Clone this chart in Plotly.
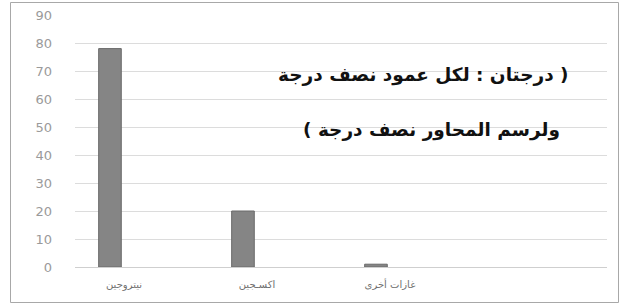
import plotly.graph_objects as go

RLE, PDF = "\u202b", "\u202c"

categories = ["نيتروجين", "اكسـجين", "غازات أخرى", " "]
values = [78, 20, 1, None]
y_ticks = [0, 10, 20, 30, 40, 50, 60, 70, 80, 90]
note_line1 = "( درجتان : لكل عمود نصف درجة"
note_line2 = "ولرسم المحاور نصف درجة )"

W, H = 629, 307
L, R, T, B = 75, 22, 15, 40

fig = go.Figure()
fig.add_trace(go.Bar(
    x=categories, y=values, width=0.17,
    marker=dict(color="#858585", line=dict(color="#6a6a6a", width=1)),
))

fig.update_layout(
    width=W, height=H,
    margin=dict(l=L, r=R, t=T, b=B, autoexpand=False),
    paper_bgcolor="white", plot_bgcolor="white",
    showlegend=False,
    font=dict(family="DejaVu Sans"),
)
fig.update_xaxes(
    type="category", range=[-0.263, 3.737],
    showgrid=False, showline=False, ticks="",
    tickfont=dict(size=10, color="#707070", family="DejaVu Sans"),
    ticklabelstandoff=10, ticklabelshift=14,
)
fig.update_yaxes(
    range=[0, 90], tickvals=y_ticks,
    showgrid=True, gridcolor="#dcdcdc", gridwidth=1,
    zeroline=True, zerolinecolor="#cfcfcf", zerolinewidth=1,
    showline=False, ticks="",
    tickfont=dict(size=13, color="#9a9a9a", family="DejaVu Sans"),
    ticklabelstandoff=22,
)

def px_to_paper_x(px):
    return (px - L) / (W - L - R)

def px_to_paper_y(py):
    return (H - B - py) / (H - T - B)

# thin outer frame of the chart, drawn as four paper-anchored lines
frame_x0, frame_x1 = px_to_paper_x(10.5), px_to_paper_x(618.5)
frame_y0, frame_y1 = px_to_paper_y(302.5), px_to_paper_y(2.5)
for (ax, ay, bx, by) in [
    (frame_x0, frame_y0, frame_x1, frame_y0),
    (frame_x0, frame_y1, frame_x1, frame_y1),
    (frame_x0, frame_y0, frame_x0, frame_y1),
    (frame_x1, frame_y0, frame_x1, frame_y1),
]:
    fig.add_shape(type="line", xref="paper", yref="paper",
                  x0=ax, y0=ay, x1=bx, y1=by,
                  line=dict(color="#a8a8a8", width=1))

for txt, cx, cy in [(note_line1, 423, 75), (note_line2, 431, 130)]:
    fig.add_annotation(text=RLE + txt + PDF, xref="paper", yref="paper",
                       x=px_to_paper_x(cx), y=px_to_paper_y(cy),
                       xanchor="center", yanchor="middle",
                       showarrow=False,
                       font=dict(size=18.5, color="#111111", family="DejaVu Sans", weight="bold"))

fig.write_html("out.html", config={"displayModeBar": False},
               post_script="document.body.style.margin='0';document.body.style.overflow='hidden';")
